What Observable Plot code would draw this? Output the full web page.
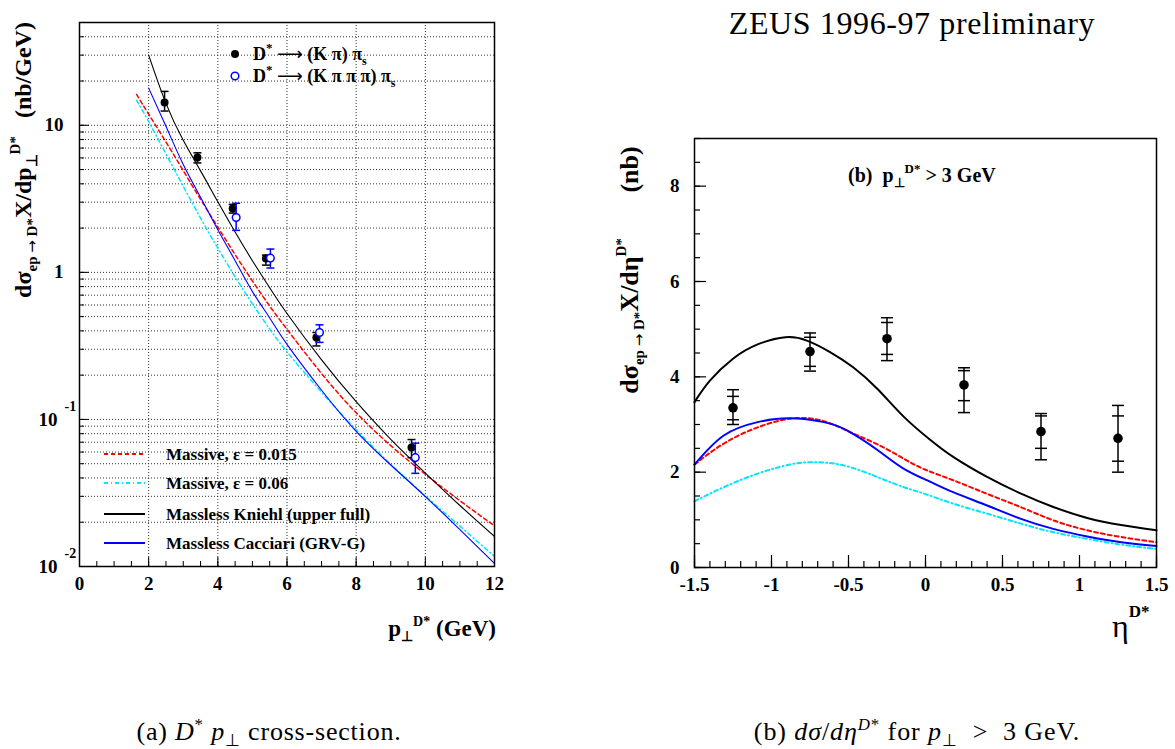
<!DOCTYPE html>
<html><head><meta charset="utf-8">
<script src="https://cdn.jsdelivr.net/npm/d3@7"></script>
<script src="https://cdn.jsdelivr.net/npm/@observablehq/plot@0.6"></script>
<style>
body{margin:0;background:#fff;width:1175px;height:749px;position:relative;overflow:hidden;font-family:"Liberation Serif",serif;color:#000;}
#left{position:absolute;left:0;top:0;}
#right{position:absolute;left:600px;top:0;}
.txt{position:absolute;white-space:nowrap;transform:translateX(-50%);line-height:1;}
.txt sup,.txt sub{line-height:0;font-size:65%;}
#zeus{left:912px;top:7px;font-size:32px;letter-spacing:0.6px;}
#capA{left:269px;top:719px;font-size:26px;letter-spacing:0.8px;}
#capB{left:917px;top:719px;font-size:26px;letter-spacing:0.9px;}
</style></head><body>
<div id="left"></div><div id="right"></div>
<div id="zeus" class="txt">ZEUS 1996-97 preliminary</div>
<div id="capA" class="txt">(a) <i>D</i><sup>*</sup> <i>p</i><sub>⊥</sub> cross-section.</div>
<div id="capB" class="txt">(b) <i>dσ</i>/<i>dη</i><sup><i>D</i>*</sup> for <i>p</i><sub>⊥</sub>&nbsp; &gt;&nbsp; 3 GeV.</div>
<script>
// ---------- Panel (a): dσ/dp⊥ (nb/GeV) ----------
const ptKpi    = [2.46, 3.41, 4.43, 5.39, 6.85, 9.6];
const xsKpi    = [14.3, 6.05, 2.72, 1.24, 0.361, 0.0645];
const xsKpiLo  = [12.5, 5.55, 2.53, 1.12, 0.316, 0.055];
const xsKpiHi  = [17.0, 6.5, 2.9, 1.31, 0.39, 0.073];
const ptK3pi   = [4.53, 5.52, 6.94, 9.71];
const xsK3pi   = [2.36, 1.25, 0.39, 0.055];
const xsK3piLo = [1.93, 1.07, 0.334, 0.043];
const xsK3piHi = [2.95, 1.44, 0.44, 0.069];

const kniehlPt   = [2.0, 2.5, 3.0, 3.5, 4.0, 4.5, 5.0, 5.5, 6.0, 7.0, 8.0, 9.0, 10.0, 11.0, 12.0];
const kniehlXs   = [30, 14.1, 7.9, 4.9, 3.02, 1.88, 1.20, 0.785, 0.525, 0.254, 0.132, 0.0733, 0.0432, 0.026, 0.016];
const cacciariPt = [2.0, 2.5, 3.0, 3.5, 4.0, 4.5, 5.0, 5.5, 6.0, 7.0, 8.0, 9.0, 10.0, 11.0, 12.0];
const cacciariXs = [17.9, 9.84, 5.41, 3.24, 1.95, 1.20, 0.74, 0.49, 0.324, 0.158, 0.083, 0.049, 0.0299, 0.0178, 0.0105];
const mass015Pt  = [1.65, 2.0, 2.5, 3.0, 3.5, 4.0, 4.5, 5.0, 5.5, 6.0, 7.0, 8.0, 9.0, 10.0, 11.0, 12.0];
const mass015Xs  = [16.2, 11.9, 7.7, 4.92, 3.14, 2.03, 1.32, 0.875, 0.59, 0.41, 0.205, 0.111, 0.0664, 0.0424, 0.028, 0.0189];
const mass06Pt   = [1.65, 2.0, 2.5, 3.0, 3.5, 4.0, 4.5, 5.0, 5.5, 6.0, 7.0, 8.0, 9.0, 10.0, 11.0, 12.0];
const mass06Xs   = [14.8, 10.6, 6.38, 3.85, 2.34, 1.46, 0.933, 0.61, 0.412, 0.288, 0.153, 0.0851, 0.0495, 0.0302, 0.0188, 0.0117];

const xTicksA = [0, 2, 4, 6, 8, 10, 12];
const xGridA = [2, 4, 6, 8, 10];
const yDecadesA = [0.01, 0.1, 1, 10];
const yTickBaseA = ["10", "10", "1", "10"];
const yTickExpA = ["-2", "-1", "", ""];
const legendA = ["Massive, ε = 0.015", "Massive, ε = 0.06", "Massless Kniehl (upper full)", "Massless Cacciari (GRV-G)"];

// ---------- Panel (b): dσ/dη (nb) ----------
const etaData  = [-1.25, -0.75, -0.25, 0.25, 0.75, 1.25];
const dsData   = [3.35, 4.53, 4.80, 3.83, 2.85, 2.71];
const statLo   = [3.10, 4.22, 4.47, 3.50, 2.50, 2.23];
const statHi   = [3.59, 4.83, 5.14, 4.13, 3.18, 3.18];
const totLo    = [3.00, 4.12, 4.34, 3.25, 2.26, 2.00];
const totHi    = [3.73, 4.92, 5.24, 4.19, 3.23, 3.40];

const kniehlEta  = [-1.5, -1.4, -1.25, -1.09, -0.91, -0.77, -0.62, -0.47, -0.31, -0.14, 0.03, 0.18, 0.40, 0.62, 0.83, 1.05, 1.27, 1.5];
const kniehlDs   = [3.47, 3.92, 4.38, 4.68, 4.83, 4.76, 4.52, 4.20, 3.74, 3.16, 2.68, 2.32, 1.90, 1.55, 1.27, 1.04, 0.89, 0.78];
const cacciariEta= [-1.5, -1.31, -1.09, -0.88, -0.66, -0.51, -0.31, -0.14, 0.03, 0.18, 0.40, 0.62, 0.83, 1.05, 1.27, 1.5];
const cacciariDs = [2.16, 2.77, 3.05, 3.13, 3.05, 2.875, 2.46, 2.07, 1.80, 1.58, 1.30, 1.02, 0.81, 0.65, 0.53, 0.45];
const mass015Eta = [-1.5, -1.31, -1.09, -0.86, -0.66, -0.49, -0.31, -0.14, 0.0, 0.18, 0.40, 0.62, 0.83, 1.05, 1.27, 1.5];
const mass015Ds  = [2.16, 2.60, 2.94, 3.13, 3.07, 2.84, 2.58, 2.28, 2.05, 1.83, 1.545, 1.265, 0.99, 0.78, 0.64, 0.53];
const mass06Eta  = [-1.5, -1.31, -1.09, -0.88, -0.73, -0.53, -0.31, -0.14, 0.0, 0.18, 0.40, 0.62, 0.83, 1.05, 1.27, 1.5];
const mass06Ds   = [1.39, 1.685, 1.97, 2.16, 2.21, 2.14, 1.895, 1.685, 1.54, 1.34, 1.13, 0.92, 0.74, 0.60, 0.48, 0.39];

const etaTicks = [-1.5, -1, -0.5, 0, 0.5, 1, 1.5];
const yTicksB = [0, 2, 4, 6, 8];

// ---------- helpers ----------
const rows = (xs, ys) => xs.map((x, i) => ({x, y: ys[i]}));
const capSym = {draw(ctx, size) { const w = Math.sqrt(size / Math.PI); ctx.moveTo(-w, 0); ctx.lineTo(w, 0); }};
const FONT = '"Liberation Serif", serif';
const SANS = '"DejaVu Sans", sans-serif';
const styles = {
  kniehl: {stroke: "black"},
  cacciari: {stroke: "#0000ff"},
  m015: {stroke: "#ff0000", strokeDasharray: "4,3"},
  m06: {stroke: "#00e5ff", strokeDasharray: "4,3,1,3"}
};
function rich(svg, x, y, parts, opts = {}) {
  const t = d3.select(svg).append("text").attr("x", x).attr("y", y)
    .attr("font-family", FONT).attr("font-weight", "bold").attr("fill", "black")
    .attr("text-anchor", opts.anchor || "start").style("white-space", "pre");
  if (opts.rotate) t.attr("transform", `rotate(${opts.rotate},${x},${y})`);
  let cur = 0;
  for (const [s, size, shift, weight, family] of parts) {
    const ts = t.append("tspan").attr("font-size", size).attr("dy", shift - cur).text(s);
    if (weight) ts.attr("font-weight", weight);
    if (family) ts.attr("font-family", family);
    cur = shift;
  }
  return t;
}

// ---------- Panel (a) plot ----------
const WA = 520, HA = 650, mlA = 79, mrA = 26, mtA = 22, mbA = 84;
const fwA = WA - mlA - mrA, fhA = HA - mtA - mbA;
const yGridA = [];
for (const d of [0.01, 0.1, 1, 10]) for (let k = 1; k <= 9; k++) { const v = +(d * k).toPrecision(3); if (v <= 50 && v > 0.01) yGridA.push(v); }
const xMinorA = d3.range(0, 25).map(k => k / 2);
const kpiRows = ptKpi.map((x, i) => ({x, y: xsKpi[i], lo: xsKpiLo[i], hi: xsKpiHi[i]}));
const k3piRows = ptK3pi.map((x, i) => ({x, y: xsK3pi[i], lo: xsK3piLo[i], hi: xsK3piHi[i]}));
const yLabRows = yDecadesA.map((v, i) => ({v, base: yTickBaseA[i], exp: yTickExpA[i]}));

const plotA = Plot.plot({
  width: WA, height: HA, marginLeft: mlA, marginRight: mrA, marginTop: mtA, marginBottom: mbA,
  style: {fontFamily: FONT, background: "transparent", color: "black", overflow: "visible"},
  x: {domain: [0, 12]},
  y: {type: "log", domain: [0.01, 50], axis: null},
  marks: [
    Plot.ruleX(xGridA, {x: d => d, stroke: "#333", strokeDasharray: "1,2"}),
    Plot.ruleY(yGridA, {y: d => d, stroke: "#333", strokeDasharray: "1,2"}),
    Plot.tickX(xMinorA, {x: d => d, insetTop: fhA - 5}),
    Plot.tickX(xTicksA, {x: d => d, insetTop: fhA - 9}),
    Plot.tickY(yGridA, {y: d => d, insetRight: fwA - 5}),
    Plot.tickY(yDecadesA, {y: d => d, insetRight: fwA - 10}),
    Plot.axisX({ticks: xTicksA, tickSize: 0, tickPadding: 10, fontSize: 19, fontWeight: "bold", tickFormat: d => String(d), label: null}),
    Plot.text(yLabRows.filter(d => !d.exp), {y: "v", text: "base", frameAnchor: "left", textAnchor: "end", dx: -16, fontSize: 19, fontWeight: "bold"}),
    Plot.text(yLabRows.filter(d => d.exp), {y: "v", text: "base", frameAnchor: "left", textAnchor: "end", dx: -22, fontSize: 19, fontWeight: "bold"}),
    Plot.text(yLabRows.filter(d => d.exp), {y: "v", text: "exp", frameAnchor: "left", textAnchor: "start", dx: -15, dy: -13, fontSize: 14, fontWeight: "bold"}),
    Plot.line(rows(mass06Pt, mass06Xs), {x: "x", y: "y", curve: "natural", strokeWidth: 1.5, clip: true, ...styles.m06}),
    Plot.line(rows(mass015Pt, mass015Xs), {x: "x", y: "y", curve: "natural", strokeWidth: 1.5, clip: true, ...styles.m015}),
    Plot.line(rows(cacciariPt, cacciariXs), {x: "x", y: "y", curve: "natural", strokeWidth: 1.1, clip: true, ...styles.cacciari}),
    Plot.line(rows(kniehlPt, kniehlXs), {x: "x", y: "y", curve: "natural", strokeWidth: 1.1, clip: true, ...styles.kniehl}),
    Plot.ruleX(kpiRows, {x: "x", y1: "lo", y2: "hi", stroke: "black", strokeWidth: 1.5}),
    Plot.dot(kpiRows, {x: "x", y: "lo", symbol: capSym, r: 4, stroke: "black", strokeWidth: 1.5, fill: "none"}),
    Plot.dot(kpiRows, {x: "x", y: "hi", symbol: capSym, r: 4, stroke: "black", strokeWidth: 1.5, fill: "none"}),
    Plot.dot(kpiRows, {x: "x", y: "y", r: 4, fill: "black", stroke: "none"}),
    Plot.ruleX(k3piRows, {x: "x", y1: "lo", y2: "hi", stroke: "#0000ff", strokeWidth: 1.5}),
    Plot.dot(k3piRows, {x: "x", y: "lo", symbol: capSym, r: 4, stroke: "#0000ff", strokeWidth: 1.5, fill: "none"}),
    Plot.dot(k3piRows, {x: "x", y: "hi", symbol: capSym, r: 4, stroke: "#0000ff", strokeWidth: 1.5, fill: "none"}),
    Plot.dot(k3piRows, {x: "x", y: "y", r: 3.8, fill: "white", stroke: "#0000ff", strokeWidth: 1.5}),
    Plot.frame({stroke: "black", strokeWidth: 1.5})
  ]
});
document.getElementById("left").appendChild(plotA);

// panel (a) texts and legends
rich(plotA, 31, 160, [["dσ", 24, 0], ["ep ", 15, 6], ["→", 15, 6, "normal", SANS], [" D*", 15, 6], ["X/dp", 24, 0], ["⊥", 15, 6], ["D*", 15, -11], ["   (nb/GeV)", 24, 0]], {anchor: "middle", rotate: -90});
rich(plotA, 496, 636, [["p", 23, 0], ["⊥", 14, 5], ["D*", 14, -10], [" (GeV)", 23, 0]], {anchor: "end"});
{
  const g = d3.select(plotA);
  g.append("circle").attr("cx", 235).attr("cy", 54).attr("r", 4).attr("fill", "black");
  g.append("circle").attr("cx", 235).attr("cy", 76).attr("r", 3.8).attr("fill", "white").attr("stroke", "#0000ff").attr("stroke-width", 1.5);
  rich(plotA, 253, 60, [["D", 18, 0], ["*", 13, -8], [" ", 18, 0], ["⟶", 18, 0, "normal", SANS], [" (K π) π", 18, 0], ["s", 12, 5]]);
  rich(plotA, 253, 82, [["D", 18, 0], ["*", 13, -8], [" ", 18, 0], ["⟶", 18, 0, "normal", SANS], [" (K π π π) π", 18, 0], ["s", 12, 5]]);
  const ly = [454, 483, 514, 543];
  const ls = [styles.m015, styles.m06, styles.kniehl, styles.cacciari];
  legendA.forEach((lab, i) => {
    const l = g.append("line").attr("x1", 104).attr("x2", 145).attr("y1", ly[i]).attr("y2", ly[i])
      .attr("stroke", ls[i].stroke).attr("stroke-width", 2);
    if (ls[i].strokeDasharray) l.attr("stroke-dasharray", ls[i].strokeDasharray);
    rich(plotA, 166, ly[i] + 6, [[lab, 17, 0]]);
  });
}

// ---------- Panel (b) plot ----------
const WB = 575, HB = 650, mlB = 94, mrB = 19, mtB = 138, mbB = 83;
const fwB = WB - mlB - mrB, fhB = HB - mtB - mbB;
const etaMinor = d3.range(-15, 16).map(k => k / 10);
const yMinorB = d3.range(0, 19).map(k => k / 2);
const dataRows = etaData.map((x, i) => ({x, y: dsData[i], sl: statLo[i], sh: statHi[i], tl: totLo[i], th: totHi[i]}));

const plotB = Plot.plot({
  width: WB, height: HB, marginLeft: mlB, marginRight: mrB, marginTop: mtB, marginBottom: mbB,
  style: {fontFamily: FONT, background: "transparent", color: "black", overflow: "visible"},
  x: {domain: [-1.5, 1.5]},
  y: {domain: [0, 9]},
  marks: [
    Plot.tickX(etaMinor, {x: d => d, insetTop: fhB - 6, strokeWidth: 1.2}),
    Plot.tickX(etaTicks, {x: d => d, insetTop: fhB - 12, strokeWidth: 1.2}),
    Plot.tickY(yMinorB, {y: d => d, insetRight: fwB - 6, strokeWidth: 1.2}),
    Plot.tickY(yTicksB, {y: d => d, insetRight: fwB - 12, strokeWidth: 1.2}),
    Plot.axisX({ticks: etaTicks, tickSize: 0, tickPadding: 10, fontSize: 19, fontWeight: "bold", tickFormat: d => String(d), label: null}),
    Plot.axisY({ticks: yTicksB, tickSize: 0, tickPadding: 15, fontSize: 19, fontWeight: "bold", tickFormat: d => String(d), label: null}),
    Plot.line(rows(mass06Eta, mass06Ds), {x: "x", y: "y", curve: "natural", strokeWidth: 2, ...styles.m06}),
    Plot.line(rows(mass015Eta, mass015Ds), {x: "x", y: "y", curve: "natural", strokeWidth: 2, ...styles.m015}),
    Plot.line(rows(cacciariEta, cacciariDs), {x: "x", y: "y", curve: "natural", strokeWidth: 2, ...styles.cacciari}),
    Plot.line(rows(kniehlEta, kniehlDs), {x: "x", y: "y", curve: "natural", strokeWidth: 2, ...styles.kniehl}),
    Plot.ruleX(dataRows, {x: "x", y1: "tl", y2: "th", stroke: "black", strokeWidth: 1.5}),
    Plot.dot(dataRows, {x: "x", y: "tl", symbol: capSym, r: 6, stroke: "black", strokeWidth: 1.5, fill: "none"}),
    Plot.dot(dataRows, {x: "x", y: "th", symbol: capSym, r: 6, stroke: "black", strokeWidth: 1.5, fill: "none"}),
    Plot.dot(dataRows, {x: "x", y: "sl", symbol: capSym, r: 6, stroke: "black", strokeWidth: 1.5, fill: "none"}),
    Plot.dot(dataRows, {x: "x", y: "sh", symbol: capSym, r: 6, stroke: "black", strokeWidth: 1.5, fill: "none"}),
    Plot.dot(dataRows, {x: "x", y: "y", r: 4.8, fill: "black", stroke: "none"}),
    Plot.frame({stroke: "black", strokeWidth: 1.5})
  ]
});
document.getElementById("right").appendChild(plotB);

rich(plotB, 38, 270, [["dσ", 26, 0], ["ep ", 15, 6], ["→", 15, 6, "normal", SANS], [" D*", 15, 6], ["X/dη", 26, 0], ["D*", 15, -12], ["       (nb)", 26, 0]], {anchor: "middle", rotate: -90});
rich(plotB, 512, 637, [["η", 32, 0, "normal"], ["D*", 17, -20]]);
rich(plotB, 248, 182, [["(b)  p", 20, 0], ["⊥", 13, 5], ["D*", 13, -9], [" > 3 GeV", 20, 0]]);
</script>
</body></html>
